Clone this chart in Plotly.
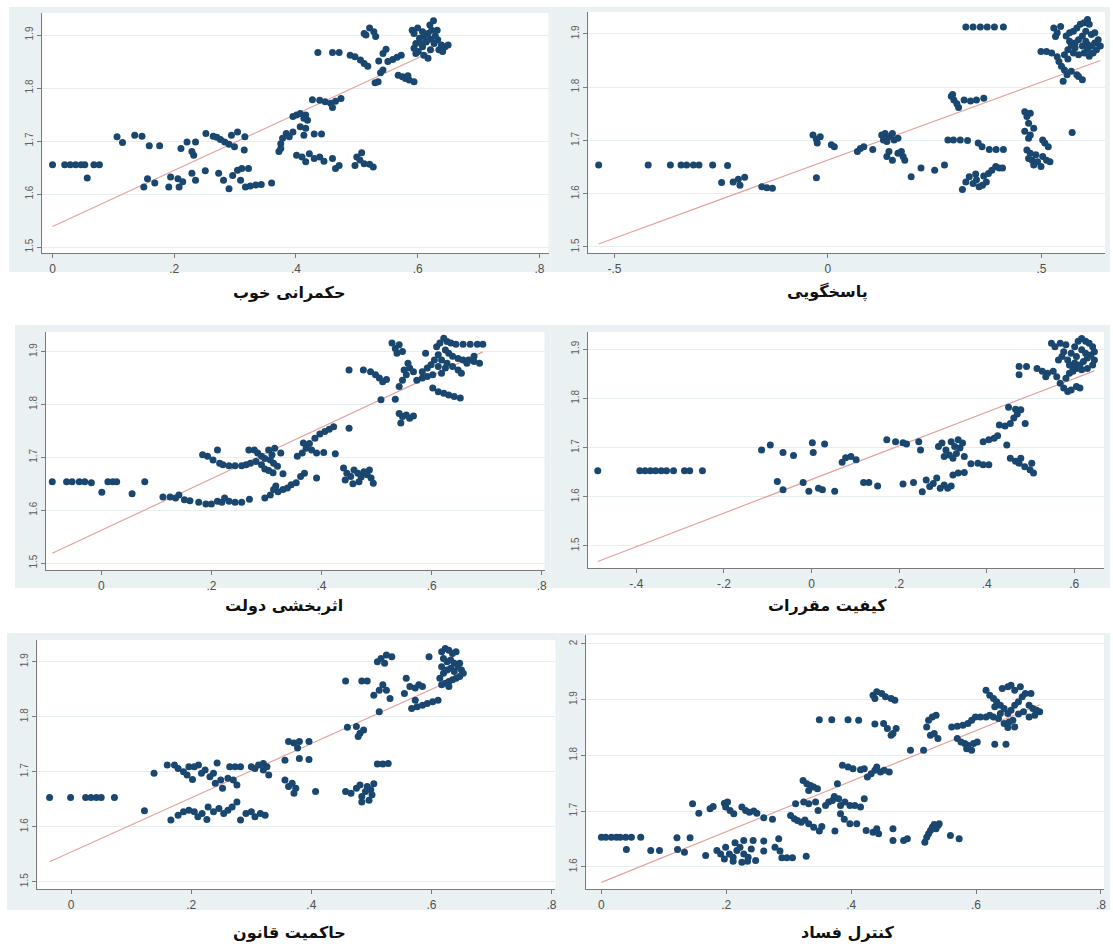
import plotly.graph_objects as go

W, H = 1113, 949

# ---------------- data ----------------
titles = ["حکمرانی خوب", "پاسخگویی", "اثربخشی دولت", "کیفیت مقررات", "حاکمیت قانون", "کنترل فساد"]

pts_good_gov = [
    (0.0,1.655),(0.02,1.655),(0.029,1.655),(0.038,1.655),(0.047,1.655),(0.053,1.655),(0.068,1.655),(0.077,1.655),
    (0.057,1.630),
    (0.106,1.708),(0.115,1.697),(0.135,1.711),(0.147,1.709),(0.159,1.691),(0.176,1.691),
    (0.150,1.613),(0.156,1.629),(0.168,1.621),
    (0.191,1.613),(0.194,1.632),(0.206,1.629),(0.208,1.613),(0.214,1.623),
    (0.211,1.686),(0.221,1.698),(0.229,1.680),(0.232,1.673),(0.235,1.698),
    (0.229,1.639),(0.235,1.626),(0.251,1.644),
    (0.252,1.714),(0.264,1.709),(0.270,1.707),(0.276,1.703),(0.283,1.698),(0.290,1.694),(0.299,1.689),
    (0.294,1.711),(0.304,1.717),(0.316,1.708),(0.315,1.683),
    (0.273,1.639),(0.281,1.626),(0.290,1.610),(0.296,1.635),(0.304,1.645),(0.311,1.648),(0.322,1.648),
    (0.309,1.626),(0.317,1.613),(0.325,1.615),(0.334,1.617),(0.343,1.618),(0.360,1.621),
    (0.372,1.680),(0.375,1.695),(0.378,1.705),(0.384,1.714),(0.389,1.708),(0.395,1.717),(0.375,1.686),
    (0.395,1.746),(0.401,1.749),(0.407,1.752),(0.413,1.743),(0.416,1.749),(0.419,1.739),(0.407,1.727),(0.416,1.724),
    (0.413,1.711),(0.430,1.713),(0.442,1.713),
    (0.401,1.673),(0.410,1.670),(0.416,1.661),(0.422,1.676),(0.430,1.667),(0.439,1.670),(0.446,1.662),
    (0.460,1.667),(0.465,1.648),(0.471,1.654),
    (0.427,1.778),(0.439,1.777),(0.448,1.774),(0.457,1.771),(0.465,1.775),(0.474,1.780),(0.460,1.763),
    (0.436,1.867),(0.460,1.867),(0.471,1.867),
    (0.489,1.862),(0.497,1.859),(0.506,1.853),(0.512,1.846),(0.518,1.841),
    (0.497,1.654),(0.500,1.670),(0.505,1.664),(0.508,1.678),(0.512,1.657),(0.521,1.656),(0.527,1.651),
    (0.512,1.903),(0.521,1.913),(0.528,1.906),(0.531,1.897),(0.515,1.900),
    (0.530,1.810),(0.535,1.812),
    (0.536,1.851),(0.543,1.865),(0.548,1.873),(0.551,1.850),(0.559,1.854),(0.566,1.858),(0.573,1.862),
    (0.543,1.834),(0.539,1.829),
    (0.568,1.824),(0.575,1.821),(0.580,1.818),(0.586,1.815),(0.594,1.812),(0.584,1.823),
    (0.591,1.909),(0.600,1.913),(0.608,1.906),(0.617,1.903),(0.620,1.919),(0.626,1.927),(0.623,1.909),
    (0.603,1.894),(0.597,1.884),(0.594,1.875),(0.601,1.869),(0.610,1.862),(0.617,1.856),(0.621,1.872),
    (0.627,1.884),(0.633,1.891),(0.639,1.881),(0.645,1.878),(0.650,1.881),(0.635,1.872),(0.641,1.869),
    (0.608,1.878),(0.614,1.887),(0.621,1.892),(0.629,1.898),(0.611,1.897),(0.606,1.884),(0.594,1.903),
    (0.632,1.909),(0.597,1.865),
]

pts_voice = [
    (-0.537,1.654),(-0.421,1.654),(-0.369,1.654),(-0.344,1.654),(-0.331,1.654),(-0.315,1.654),(-0.302,1.654),
    (-0.270,1.654),(-0.235,1.653),
    (-0.249,1.621),(-0.222,1.622),(-0.210,1.627),(-0.195,1.631),(-0.206,1.616),
    (-0.155,1.613),(-0.143,1.611),(-0.130,1.610),
    (-0.027,1.630),
    (-0.035,1.710),(-0.027,1.702),(-0.018,1.707),(-0.025,1.695),(0.008,1.692),(0.015,1.688),
    (0.069,1.679),(0.076,1.685),(0.084,1.688),(0.105,1.683),
    (0.126,1.710),(0.134,1.713),(0.143,1.707),(0.151,1.713),(0.155,1.701),(0.164,1.704),(0.138,1.698),(0.130,1.701),
    (0.138,1.670),(0.143,1.679),(0.151,1.663),(0.172,1.679),(0.180,1.663),(0.176,1.670),(0.164,1.676),
    (0.195,1.632),(0.218,1.648),(0.250,1.644),(0.273,1.654),
    (0.281,1.701),(0.294,1.701),(0.310,1.701),(0.327,1.700),
    (0.289,1.783),(0.295,1.776),(0.302,1.769),(0.306,1.762),(0.319,1.776),(0.334,1.774),(0.348,1.776),
    (0.365,1.779),(0.292,1.786),
    (0.323,1.913),(0.340,1.913),(0.357,1.913),(0.373,1.913),(0.390,1.913),(0.411,1.913),
    (0.352,1.695),(0.361,1.688),(0.378,1.683),(0.394,1.683),(0.411,1.683),
    (0.315,1.608),(0.323,1.622),(0.331,1.632),(0.340,1.619),(0.348,1.626),(0.354,1.613),(0.362,1.616),
    (0.371,1.622),(0.376,1.638),(0.384,1.644),(0.393,1.651),(0.401,1.648),(0.409,1.648),(0.346,1.637),(0.365,1.633),
    (0.461,1.754),(0.466,1.745),(0.474,1.751),(0.470,1.732),(0.461,1.717),(0.474,1.710),(0.482,1.723),(0.470,1.704),
    (0.466,1.682),(0.474,1.676),(0.470,1.666),(0.478,1.663),(0.482,1.654),(0.491,1.660),(0.499,1.651),
    (0.503,1.670),(0.512,1.663),(0.520,1.660),(0.508,1.695),(0.516,1.688),(0.503,1.701),(0.487,1.673),
    (0.572,1.715),
    (0.529,1.911),(0.537,1.902),(0.545,1.914),(0.533,1.895),
    (0.499,1.867),(0.512,1.867),(0.524,1.864),(0.537,1.857),(0.541,1.848),(0.547,1.839),(0.554,1.832),
    (0.551,1.811),(0.560,1.823),(0.570,1.830),(0.583,1.823),(0.596,1.814),(0.587,1.820),
    (0.558,1.896),(0.566,1.902),(0.575,1.905),(0.583,1.911),(0.591,1.918),(0.600,1.921),(0.608,1.927),
    (0.612,1.918),(0.604,1.905),(0.596,1.896),(0.587,1.889),(0.579,1.883),(0.570,1.877),(0.562,1.870),
    (0.575,1.864),(0.587,1.861),(0.600,1.864),(0.608,1.870),(0.617,1.877),(0.625,1.883),(0.633,1.889),
    (0.638,1.877),(0.629,1.870),(0.621,1.864),(0.612,1.858),(0.604,1.886),(0.617,1.899),(0.625,1.902),
    (0.566,1.886),(0.579,1.874),(0.596,1.877),(0.608,1.880),(0.554,1.861),(0.562,1.853),
]

pts_gov_eff = [
    (-0.089,1.654),(-0.063,1.654),(-0.053,1.654),(-0.040,1.654),(-0.030,1.654),(-0.018,1.652),
    (0.001,1.634),(0.012,1.654),(0.021,1.654),(0.028,1.654),(0.056,1.631),(0.079,1.654),
    (0.112,1.625),(0.125,1.625),(0.135,1.623),(0.141,1.629),(0.151,1.620),(0.161,1.618),(0.177,1.615),
    (0.190,1.612),(0.200,1.612),(0.211,1.617),(0.219,1.615),(0.224,1.623),(0.232,1.617),(0.243,1.615),
    (0.255,1.615),(0.269,1.621),
    (0.184,1.705),(0.193,1.702),(0.203,1.695),(0.211,1.714),(0.215,1.689),(0.221,1.686),(0.232,1.684),
    (0.243,1.684),(0.255,1.684),(0.263,1.686),
    (0.268,1.714),(0.278,1.714),(0.284,1.708),(0.291,1.702),(0.297,1.698),(0.271,1.689),(0.281,1.692),
    (0.291,1.686),(0.304,1.714),(0.310,1.705),(0.315,1.717),(0.307,1.695),(0.313,1.689),(0.320,1.683),
    (0.330,1.669),(0.297,1.678),(0.304,1.675),(0.312,1.671),(0.326,1.708),
    (0.297,1.623),(0.307,1.629),(0.313,1.639),(0.321,1.635),(0.330,1.639),(0.338,1.642),(0.345,1.648),
    (0.354,1.652),(0.362,1.664),(0.369,1.670),(0.317,1.646),
    (0.391,1.661),
    (0.356,1.702),(0.365,1.708),(0.372,1.717),(0.382,1.714),(0.391,1.708),(0.404,1.709),(0.425,1.707),
    (0.367,1.727),(0.378,1.726),(0.388,1.736),(0.397,1.744),(0.406,1.749),(0.414,1.753),(0.422,1.758),
    (0.450,1.755),
    (0.450,1.865),
    (0.440,1.680),(0.446,1.670),(0.453,1.664),(0.459,1.676),(0.466,1.670),(0.472,1.663),(0.477,1.673),
    (0.483,1.667),(0.490,1.661),(0.494,1.651),(0.443,1.657),(0.457,1.650),(0.468,1.654),(0.487,1.676),
    (0.476,1.865),(0.489,1.862),(0.498,1.856),(0.505,1.850),(0.511,1.843),(0.518,1.847),
    (0.508,1.809),(0.534,1.810),
    (0.528,1.916),(0.534,1.906),(0.541,1.913),(0.547,1.900),(0.537,1.897),
    (0.541,1.783),(0.547,1.777),(0.554,1.780),(0.560,1.774),(0.544,1.765),(0.567,1.778),
    (0.541,1.834),(0.547,1.846),(0.554,1.856),(0.560,1.869),(0.567,1.862),(0.573,1.846),(0.583,1.850),
    (0.557,1.878),(0.550,1.865),
    (0.589,1.897),
    (0.583,1.862),(0.592,1.869),(0.599,1.875),(0.605,1.884),(0.612,1.894),(0.609,1.909),(0.615,1.916),
    (0.622,1.925),(0.628,1.919),(0.635,1.916),(0.644,1.914),(0.657,1.914),(0.670,1.914),(0.683,1.914),
    (0.693,1.914),(0.625,1.903),(0.631,1.897),(0.638,1.891),(0.648,1.887),(0.657,1.884),(0.667,1.884),
    (0.677,1.881),(0.687,1.878),(0.618,1.884),(0.628,1.878),(0.638,1.872),(0.648,1.865),(0.654,1.859),
    (0.612,1.872),(0.602,1.856),(0.592,1.853),(0.602,1.831),(0.612,1.824),(0.622,1.821),(0.631,1.818),
    (0.641,1.815),(0.652,1.812),(0.618,1.859),(0.664,1.878),(0.677,1.891),(0.625,1.869),
]

pts_reg_quality = [
    (-0.488,1.653),(-0.392,1.653),(-0.380,1.653),(-0.368,1.653),(-0.356,1.653),(-0.343,1.653),(-0.331,1.653),
    (-0.315,1.653),(-0.290,1.653),(-0.278,1.653),(-0.249,1.653),
    (-0.114,1.695),(-0.094,1.705),(-0.078,1.631),(-0.065,1.614),(-0.065,1.690),(-0.041,1.684),
    (-0.019,1.629),(-0.006,1.611),(0.002,1.710),(0.004,1.690),(0.016,1.617),(0.025,1.614),(0.030,1.707),
    (0.053,1.611),
    (0.070,1.670),(0.078,1.679),(0.090,1.682),(0.102,1.675),
    (0.119,1.629),(0.131,1.629),(0.151,1.622),
    (0.172,1.716),(0.192,1.712),(0.209,1.710),(0.217,1.707),
    (0.209,1.626),(0.233,1.629),
    (0.245,1.712),(0.249,1.695),
    (0.253,1.610),(0.262,1.634),(0.270,1.621),(0.278,1.627),(0.286,1.638),(0.294,1.617),(0.303,1.624),
    (0.311,1.617),(0.319,1.622),
    (0.290,1.702),(0.298,1.709),(0.307,1.695),(0.315,1.685),(0.323,1.678),(0.331,1.688),(0.339,1.699),
    (0.345,1.709),(0.319,1.712),(0.327,1.702),(0.335,1.716),(0.303,1.682),(0.349,1.682),
    (0.323,1.644),(0.335,1.648),(0.349,1.649),
    (0.364,1.667),(0.380,1.668),(0.392,1.665),(0.405,1.665),
    (0.392,1.712),(0.405,1.716),(0.417,1.719),(0.425,1.724),
    (0.446,1.705),
    (0.429,1.746),(0.442,1.744),(0.454,1.749),(0.462,1.760),(0.470,1.768),(0.478,1.777),(0.488,1.749),
    (0.466,1.778),(0.450,1.782),
    (0.454,1.678),(0.466,1.672),(0.474,1.668),(0.487,1.661),(0.499,1.655),(0.507,1.648),(0.503,1.668),
    (0.478,1.678),
    (0.474,1.865),(0.491,1.865),(0.474,1.848),
    (0.515,1.861),(0.527,1.855),(0.539,1.851),(0.552,1.855),(0.535,1.844),
    (0.560,1.844),(0.568,1.831),(0.576,1.821),(0.585,1.814),(0.593,1.817),(0.605,1.824),(0.613,1.821),
    (0.581,1.841),(0.589,1.851),(0.597,1.861),(0.601,1.872),
    (0.548,1.912),(0.556,1.905),(0.568,1.912),(0.581,1.909),(0.576,1.895),(0.572,1.885),(0.564,1.878),
    (0.585,1.878),(0.593,1.892),(0.601,1.905),(0.609,1.916),(0.617,1.922),(0.626,1.916),(0.634,1.912),
    (0.642,1.905),(0.646,1.895),(0.638,1.888),(0.630,1.882),(0.621,1.875),(0.613,1.868),(0.605,1.861),
    (0.617,1.858),(0.630,1.861),(0.642,1.868),(0.646,1.878),(0.605,1.885),(0.617,1.899),(0.626,1.892),
    (0.589,1.868),(0.597,1.855),
]

pts_rule_law = [
    (-0.036,1.653),(-0.001,1.653),(0.024,1.653),(0.033,1.653),(0.042,1.653),(0.050,1.653),(0.072,1.653),
    (0.122,1.629),(0.138,1.697),
    (0.160,1.712),(0.172,1.712),(0.178,1.706),(0.187,1.700),(0.193,1.694),(0.196,1.709),(0.205,1.709),
    (0.212,1.712),(0.202,1.686),
    (0.217,1.697),(0.223,1.703),(0.231,1.691),(0.237,1.697),(0.243,1.716),(0.240,1.679),(0.249,1.685),
    (0.252,1.670),(0.261,1.688),
    (0.264,1.709),(0.273,1.709),(0.282,1.709),(0.270,1.685),(0.276,1.676),
    (0.166,1.612),(0.178,1.621),(0.187,1.627),(0.196,1.630),(0.205,1.627),(0.211,1.618),(0.218,1.624),
    (0.226,1.613),(0.228,1.636),(0.237,1.627),(0.246,1.633),(0.254,1.624),(0.261,1.630),(0.268,1.636),
    (0.276,1.645),
    (0.282,1.612),(0.291,1.624),(0.300,1.627),(0.306,1.618),(0.315,1.624),(0.323,1.621),
    (0.300,1.709),(0.306,1.706),(0.312,1.712),(0.320,1.715),(0.326,1.709),(0.329,1.694),(0.320,1.703),
    (0.356,1.721),(0.362,1.755),(0.371,1.752),(0.377,1.743),(0.380,1.755),(0.396,1.755),
    (0.356,1.685),(0.362,1.673),(0.368,1.679),(0.374,1.670),(0.371,1.661),(0.380,1.724),(0.396,1.722),
    (0.407,1.664),
    (0.457,1.865),(0.484,1.865),(0.493,1.865),
    (0.460,1.781),(0.475,1.782),(0.481,1.770),(0.487,1.776),(0.478,1.764),
    (0.457,1.664),(0.466,1.661),(0.475,1.670),(0.481,1.676),(0.484,1.655),(0.490,1.664),(0.493,1.673),
    (0.499,1.667),(0.496,1.648),(0.501,1.658),(0.484,1.645),(0.504,1.678),
    (0.513,1.809),
    (0.510,1.714),(0.519,1.714),(0.528,1.715),
    (0.510,1.900),(0.516,1.906),(0.525,1.912),(0.534,1.909),(0.522,1.897),
    (0.504,1.839),(0.513,1.848),(0.519,1.858),(0.525,1.848),(0.531,1.833),
    (0.555,1.842),(0.558,1.870),(0.564,1.855),(0.573,1.852),(0.579,1.858),(0.585,1.855),
    (0.567,1.815),(0.576,1.818),(0.585,1.821),(0.593,1.824),(0.602,1.827),(0.611,1.830),(0.573,1.830),
    (0.596,1.909),
    (0.617,1.918),(0.623,1.924),(0.629,1.921),(0.635,1.915),(0.641,1.918),(0.620,1.906),(0.626,1.900),
    (0.632,1.903),(0.638,1.897),(0.644,1.891),(0.650,1.885),(0.653,1.879),(0.647,1.873),(0.641,1.870),
    (0.635,1.867),(0.629,1.864),(0.623,1.861),(0.617,1.858),(0.614,1.870),(0.620,1.879),(0.626,1.885),
    (0.632,1.888),(0.638,1.882),(0.647,1.897),(0.617,1.891),(0.629,1.855),
]

pts_corruption = [
    (0.0,1.653),(0.007,1.653),(0.016,1.653),(0.024,1.653),(0.030,1.653),(0.039,1.653),(0.048,1.653),(0.063,1.653),
    (0.040,1.631),(0.079,1.629),(0.093,1.629),
    (0.121,1.652),(0.142,1.652),(0.122,1.631),(0.133,1.626),
    (0.146,1.713),(0.156,1.696),(0.167,1.620),
    (0.174,1.704),(0.179,1.708),(0.197,1.714),(0.199,1.707),(0.202,1.716),(0.206,1.701),(0.212,1.695),
    (0.225,1.707),(0.231,1.701),(0.237,1.698),(0.244,1.700),(0.249,1.696),(0.260,1.688),(0.274,1.685),
    (0.185,1.629),(0.191,1.623),(0.197,1.614),(0.199,1.635),(0.205,1.623),(0.211,1.617),(0.217,1.629),
    (0.222,1.635),(0.228,1.623),(0.235,1.617),(0.240,1.632),(0.247,1.611),(0.243,1.647),(0.260,1.646),
    (0.260,1.628),(0.278,1.635),(0.284,1.650),(0.286,1.628),(0.289,1.616),(0.297,1.616),(0.306,1.616),
    (0.228,1.647),(0.214,1.643),(0.225,1.608),(0.234,1.610),(0.211,1.610),(0.328,1.619),
    (0.303,1.692),(0.309,1.686),(0.314,1.683),(0.320,1.680),(0.326,1.684),(0.332,1.677),(0.340,1.671),
    (0.349,1.664),(0.353,1.672),(0.311,1.713),(0.324,1.716),(0.332,1.713),(0.343,1.716),(0.347,1.701),
    (0.359,1.710),(0.364,1.716),(0.370,1.719),(0.373,1.726),(0.380,1.722),(0.383,1.710),(0.390,1.716),
    (0.398,1.710),(0.406,1.710),(0.415,1.707),(0.421,1.722),(0.374,1.664),(0.383,1.695),(0.389,1.685),
    (0.398,1.677),(0.409,1.677),
    (0.323,1.755),(0.329,1.749),(0.335,1.746),(0.340,1.743),(0.346,1.740),(0.332,1.737),(0.378,1.749),
    (0.386,1.782),(0.395,1.779),(0.403,1.776),(0.415,1.774),(0.421,1.776),(0.432,1.767),(0.438,1.773),
    (0.441,1.779),(0.447,1.770),(0.453,1.773),(0.461,1.770),(0.426,1.761),
    (0.424,1.665),(0.435,1.662),(0.441,1.668),(0.444,1.659),
    (0.467,1.668),(0.467,1.647),(0.484,1.647),(0.490,1.650),
    (0.518,1.644),(0.521,1.653),(0.524,1.659),(0.527,1.665),(0.530,1.671),(0.533,1.676),(0.539,1.674),
    (0.541,1.677),(0.536,1.668),
    (0.559,1.656),(0.573,1.650),
    (0.349,1.864),(0.369,1.864),(0.395,1.864),(0.412,1.863),
    (0.435,1.908),(0.441,1.914),(0.449,1.911),(0.455,1.905),(0.464,1.902),(0.470,1.899),(0.438,1.902),
    (0.438,1.856),(0.452,1.857),(0.458,1.848),(0.467,1.839),(0.472,1.848),(0.464,1.836),
    (0.495,1.809),(0.516,1.809),
    (0.521,1.851),(0.524,1.863),(0.530,1.869),(0.536,1.872),(0.533,1.839),(0.539,1.830),(0.527,1.836),
    (0.561,1.851),(0.570,1.852),(0.579,1.854),(0.587,1.857),(0.593,1.863),(0.599,1.869),(0.607,1.869),
    (0.616,1.869),
    (0.570,1.830),(0.576,1.824),(0.582,1.821),(0.587,1.818),(0.596,1.821),(0.602,1.824),(0.585,1.812),
    (0.593,1.809),(0.630,1.820),(0.648,1.820),
    (0.616,1.917),(0.622,1.908),(0.628,1.902),(0.633,1.896),(0.639,1.890),(0.645,1.884),(0.651,1.875),
    (0.656,1.881),(0.662,1.890),(0.668,1.896),(0.674,1.905),(0.679,1.911),(0.688,1.911),(0.642,1.920),
    (0.651,1.923),(0.656,1.926),(0.662,1.917),(0.671,1.923),(0.685,1.890),(0.691,1.884),(0.697,1.881),
    (0.702,1.878),(0.694,1.872),(0.685,1.869),(0.676,1.878),(0.668,1.874),(0.659,1.863),(0.653,1.860),
    (0.645,1.857),(0.636,1.866),(0.628,1.869),(0.639,1.875),(0.630,1.887),(0.622,1.872),(0.662,1.851),
    (0.651,1.850),
]

# fitted line (intercept, slope)
fit_params = [(1.5386, 0.530), (1.663, 0.293), (1.562, 0.487), (1.635, 0.342), (1.554, 0.493), (1.572, 0.454)]

# axis ranges and ticks
x_ranges = [(-0.0175, 0.815), (-0.561, 0.649), (-0.1006, 0.805), (-0.5105, 0.668), (-0.0563, 0.8066), (-0.0245, 0.805)]
y_ranges = [(1.4887, 1.9415), (1.4887, 1.941), (1.487, 1.937), (1.455, 1.935), (1.4867, 1.9395), (1.56, 2.016)]
x_tickvals = [[0, .2, .4, .6, .8], [-.5, 0, .5], [0, .2, .4, .6, .8], [-.4, -.2, 0, .2, .4, .6], [0, .2, .4, .6, .8], [0, .2, .4, .6, .8]]
x_ticktext = [["0", ".2", ".4", ".6", ".8"], ["-.5", "0", ".5"], ["0", ".2", ".4", ".6", ".8"],
              ["-.4", "-.2", "0", ".2", ".4", ".6"], ["0", ".2", ".4", ".6", ".8"], ["0", ".2", ".4", ".6", ".8"]]
y_tickvals = [[1.5, 1.6, 1.7, 1.8, 1.9]] * 5 + [[1.6, 1.7, 1.8, 1.9, 2.0]]
y_ticktext = [["1.5", "1.6", "1.7", "1.8", "1.9"]] * 5 + [["1.6", "1.7", "1.8", "1.9", "2"]]

panels = [pts_good_gov, pts_voice, pts_gov_eff, pts_reg_quality, pts_rule_law, pts_corruption]

# ---------------- layout geometry (pixels) ----------------
plot_boxes = [(42, 13, 550, 253), (590, 12, 1108, 253), (46, 332, 546, 570),
              (589.5, 332, 1107, 568), (37.5, 640, 557, 889), (587.7, 635, 1107, 889)]
gray_boxes = [(9, 7, 552, 272), (552, 7, 1113, 272), (15, 325, 552, 588),
              (552, 325, 1113, 588), (7, 633, 560, 910), (560, 633, 1113, 910)]
title_pos = [(290, 292), (830, 292), (285, 605), (830, 605), (290, 932), (850, 932)]

NAVY = "#1a476f"
FIT = "#e3a39d"
AXIS = "#7a7a7a"
GRID = "#e6eef0"
GRAYBG = "#eaf1f3"

fig = go.Figure()
shapes = []
annotations = []
layout = {}


def fx(px):
    return px / W


def fy(py):
    return 1 - py / H


for i, pts in enumerate(panels):
    n = i + 1
    xs = [p[0] for p in pts]
    ys = [p[1] for p in pts]
    a, b = fit_params[i]
    xl = [min(xs), max(xs)]
    yl = [a + b * v for v in xl]
    xa = "x" if n == 1 else f"x{n}"
    ya = "y" if n == 1 else f"y{n}"
    fig.add_trace(go.Scatter(x=xl, y=yl, mode="lines", line=dict(color=FIT, width=1.2),
                             xaxis=xa, yaxis=ya, showlegend=False, hoverinfo="skip"))
    fig.add_trace(go.Scatter(x=xs, y=ys, mode="markers",
                             marker=dict(color=NAVY, size=7, line=dict(width=0)),
                             xaxis=xa, yaxis=ya, showlegend=False))

    x0, y0, x1, y1 = plot_boxes[i]
    gx0, gy0, gx1, gy1 = gray_boxes[i]
    shapes.append(dict(type="rect", xref="paper", yref="paper", x0=fx(gx0), x1=fx(gx1), y0=fy(gy1), y1=fy(gy0),
                       fillcolor=GRAYBG, line=dict(width=0), layer="below"))
    shapes.append(dict(type="rect", xref="paper", yref="paper", x0=fx(x0), x1=fx(x1), y0=fy(y1), y1=fy(y0),
                       fillcolor="white", line=dict(width=0), layer="below"))

    xkey = "xaxis" if n == 1 else f"xaxis{n}"
    ykey = "yaxis" if n == 1 else f"yaxis{n}"
    layout[xkey] = dict(domain=[fx(x0), fx(x1)], anchor=ya, range=list(x_ranges[i]),
                        tickvals=x_tickvals[i], ticktext=x_ticktext[i],
                        showline=True, linecolor=AXIS, linewidth=1.2, mirror=False,
                        ticks="outside", ticklen=4, tickcolor=AXIS, tickwidth=1,
                        showgrid=False, zeroline=False,
                        tickfont=dict(family="Liberation Sans, Arial, sans-serif", size=12, color="#505050"))
    layout[ykey] = dict(domain=[fy(y1), fy(y0)], anchor=xa, range=list(y_ranges[i]),
                        tickvals=y_tickvals[i], ticktext=y_ticktext[i], tickangle=-90,
                        showline=True, linecolor=AXIS, linewidth=1.2,
                        ticks="outside", ticklen=4, tickcolor=AXIS, tickwidth=1,
                        showgrid=True, gridcolor=GRID, gridwidth=1, zeroline=False,
                        tickfont=dict(family="Liberation Sans, Arial, sans-serif", size=10, color="#606060"))

    tx, ty = title_pos[i]
    annotations.append(dict(text=f"<b>{titles[i]}</b>", x=fx(tx), y=fy(ty), xref="paper", yref="paper",
                            showarrow=False, xanchor="center", yanchor="middle",
                            font=dict(family="DejaVu Sans, Noto Sans, sans-serif", size=16, color="#111111")))

fig.update_layout(width=W, height=H, margin=dict(l=0, r=0, t=0, b=0),
                  paper_bgcolor="white", plot_bgcolor="rgba(0,0,0,0)",
                  shapes=shapes, annotations=annotations, showlegend=False, **layout)

fig.write_html("out.html", config={"displayModeBar": False},
               post_script="document.body.style.margin='0';document.body.style.overflow='hidden';"
                           "document.documentElement.style.overflow='hidden';")
